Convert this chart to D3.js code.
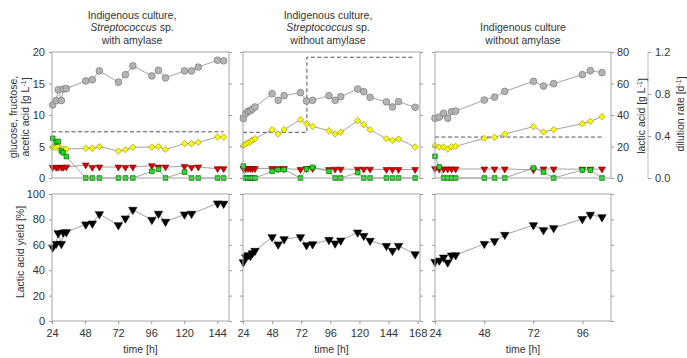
<!DOCTYPE html>
<html>
<head>
<meta charset="utf-8">
<script src="https://cdn.jsdelivr.net/npm/d3@7"></script>
<style>
  html, body { margin: 0; padding: 0; background: #fff; }
  svg { display: block; }
</style>
</head>
<body>
<script>
// ---- data ----
// panel 1: indigenous culture + Streptococcus sp., with amylase
const time1 = [24.5, 27, 28.5, 30.8, 32.2, 34.4, 48.5, 53.3, 58.4, 72.2, 77.3, 82.7, 96.5, 101.3, 106.4, 120.2, 125.3, 130.2, 144.2, 148.6];
const lactic1 = [46.4, 49.2, 56.0, 49.2, 56.4, 56.8, 61.6, 62.4, 68.0, 60.8, 65.6, 71.2, 64.8, 68.4, 63.6, 68.0, 68.0, 70.4, 74.8, 74.4];
const acetic1 = [4.87, 4.87, 5.13, 4.39, 4.6, 4.6, 4.71, 4.71, 4.97, 4.29, 4.5, 4.87, 4.92, 4.97, 4.55, 5.45, 5.45, 5.66, 6.5, 6.5];
const fructose1 = [1.69, 1.69, 1.69, 1.69, 1.69, 1.74, 2.06, 1.69, 1.74, 1.74, 1.69, 1.74, 1.96, 1.74, 1.74, 1.85, 1.69, 1.74, 1.48, 1.48];
const glucose1 = [6.3, 5.7, 5.8, 4.3, 4.0, 3.4, 0, 0, 0, 0, 0, 0, 1.06, 1.38, 0, 0.95, 0, 0, 0, 0];
const yield1 = [57.9, 60.8, 69.2, 60.8, 69.7, 70.0, 76.1, 76.8, 84.2, 75.5, 80.8, 87.6, 79.7, 84.5, 78.2, 83.9, 84.5, null, 92.6, 92.4];
const dilTime1 = [24, 148.6];
const dilution1 = [0.44, 0.44];

// panel 2: indigenous culture + Streptococcus sp., without amylase
const time2 = [24.3, 26.2, 28.1, 30.1, 31.7, 33.9, 48.0, 53.0, 57.9, 71.4, 76.4, 81.4, 94.9, 100.0, 104.6, 118.6, 123.6, 128.8, 142.3, 147.3, 152.3, 166.0];
const lactic2 = [37.7, 40.8, 42.3, 42.8, 43.8, 45.1, 53.5, 49.3, 52.3, 54.2, 48.9, 49.3, 52.3, 49.3, 51.6, 56.5, 54.8, 51.2, 48.3, 45.1, 48.5, 44.9];
const acetic2 = [5.13, 5.4, 5.6, 5.77, 6.03, 6.24, 7.67, 6.98, 7.67, 9.26, 8.62, 8.2, 7.51, 6.98, 7.25, 9.1, 8.47, 7.67, 6.24, 5.98, 6.19, 4.92];
const fructose2 = [1.5, 1.5, 1.5, 1.5, 1.5, 1.5, 1.5, 1.5, 1.5, 1.35, 1.5, 1.5, 1.35, 1.4, 1.4, 1.4, 1.4, 1.4, 1.35, 1.35, 1.35, 1.35];
const glucose2 = [1.9, 0, 0, 0, 0, 0, 1.06, 1.32, 1.32, 0, 1.43, 1.69, 1.06, 0, 0, 0.85, 0, 0, 0, 0, 0, 0];
const yield2 = [46.3, 50.3, 51.8, 51.3, 53.4, 55.3, 66.1, 60.3, 64.5, 66.1, 59.7, 60.5, 63.9, 61.1, 63.4, 69.7, 67.1, 63.2, 59.2, 55.3, 59.2, 52.6];
const dilTime2 = [24, 76.7, 164.7];
const dilution2 = [0.435, 1.15, 1.15];

// panel 3: indigenous culture, without amylase
const time3 = [24, 26.1, 28.2, 30.2, 32.1, 34.1, 48.1, 53.1, 58.1, 72.1, 77.0, 82.0, 96.0, 99.9, 105.6];
const lactic3 = [37.9, 38.7, 41.1, 37.9, 42.1, 42.5, 49.5, 51.4, 55.0, 61.4, 58.4, 59.9, 65.6, 68.1, 66.9];
const acetic3 = [5.13, 4.92, 4.92, 4.6, 4.97, 5.03, 6.3, 6.46, 6.98, 8.15, 7.3, 7.67, 8.62, 9.0, 9.74];
const fructose3 = [1.48, 1.43, 1.43, 1.43, 1.43, 1.43, 1.43, 1.43, 1.43, 1.3, 1.43, 1.43, 1.4, 1.4, 1.43];
const glucose3 = [3.44, 1.75, 0, 0, 0, 0, 0, 0, 0, 1.59, 0.95, 0, 1.27, 1.27, 0];
const yield3 = [46.6, 47.6, 50.0, 46.1, 51.6, 51.8, 60.8, 62.9, 67.9, 75.5, 71.6, 73.2, 80.3, 83.7, 81.8];
const dilTime3 = [24, 105.6];
const dilution3 = [0.39, 0.39];

const timeTicks1 = [24, 48, 72, 96, 120, 144];
const timeTicks2 = [24, 48, 72, 96, 120, 144, 168];
const timeTicks3 = [24, 48, 72, 96];
const concTicks = [0, 5, 10, 15, 20];
const lacticTicks = [0, 20, 40, 60, 80];
const dilutionTicks = [0, 0.4, 0.8, 1.2];
const yieldTicks = [0, 20, 40, 60, 80, 100];

// ---- layout ----
const W = 687, H = 358;
const FONT = "Arial, 'Liberation Sans', Helvetica, sans-serif";
const TOP = [178, 52];      // y range of the concentration plots
const BOT = [321, 194];     // y range of the yield plots
const TEXT = "#333";
const FRAME = "#a6a6a6";

const panels = [
	{
		xr: [52, 229], domain: [24, 152.5], ticks: timeTicks1, titleX: 132,
		title: [["Indigenous culture,"], [["Streptococcus", true], [" sp.", false]], ["with amylase"]],
		time: time1, lactic: lactic1, acetic: acetic1, fructose: fructose1, glucose: glucose1,
		yield: yield1, dilTime: dilTime1, dilution: dilution1
	},
	{
		xr: [243, 420], domain: [24, 170], ticks: timeTicks2, titleX: 328,
		title: [["Indigenous culture,"], [["Streptococcus", true], [" sp.", false]], ["without amylase"]],
		time: time2, lactic: lactic2, acetic: acetic2, fructose: fructose2, glucose: glucose2,
		yield: yield2, dilTime: dilTime2, dilution: dilution2
	},
	{
		xr: [435, 611], domain: [24, 110], ticks: timeTicks3, titleX: 523,
		title: [null, ["Indigenous culture"], ["without amylase"]],
		time: time3, lactic: lactic3, acetic: acetic3, fructose: fructose3, glucose: glucose3,
		yield: yield3, dilTime: dilTime3, dilution: dilution3
	}
];

const svg = d3.select("body").append("svg")
	.attr("width", W)
	.attr("height", H)
	.attr("font-family", FONT);

const yConc = d3.scaleLinear().domain([0, 20]).range(TOP);
const yLactic = d3.scaleLinear().domain([0, 80]).range(TOP);
const yDil = d3.scaleLinear().domain([0, 1.2]).range(TOP);
const yYield = d3.scaleLinear().domain([0, 100]).range(BOT);

function styleAxis(g) {
	g.attr("font-family", FONT).attr("font-size", 11);
	g.select(".domain").remove();
	g.selectAll(".tick line").attr("stroke", "#999");
	g.selectAll(".tick text").attr("fill", TEXT);
}

function drawSeries(g, x, y, times, values, shape, size, fill, stroke, rotate) {
	const pts = times.map((t, i) => ({t, v: values[i]})).filter(d => d.v != null);
	g.append("path")
		.datum(pts)
		.attr("d", d3.line().x(d => x(d.t)).y(d => y(d.v)))
		.attr("fill", "none")
		.attr("stroke", "#8c8c8c")
		.attr("stroke-width", 0.8);
	g.selectAll(null)
		.data(pts)
		.join("path")
		.attr("transform", d => `translate(${x(d.t)},${y(d.v)}) rotate(${rotate})`)
		.attr("d", d3.symbol(shape, size)())
		.attr("fill", fill)
		.attr("stroke", stroke)
		.attr("stroke-width", 0.6);
}

function frame(x0, x1, yr) {
	svg.append("rect")
		.attr("x", x0).attr("y", yr[1])
		.attr("width", x1 - x0).attr("height", yr[0] - yr[1])
		.attr("fill", "none")
		.attr("stroke", FRAME)
		.attr("stroke-width", 1);
}

function rotatedLabel(x, y, parts) {
	const t = svg.append("text")
		.attr("transform", `translate(${x},${y}) rotate(-90)`)
		.attr("text-anchor", "middle")
		.attr("dy", "0.35em")
		.attr("font-size", 10.5)
		.attr("fill", TEXT);
	addUnit(t, parts);
}

// text with a "-1" superscript inside the unit bracket
function addUnit(t, parts) {
	t.append("tspan").text(parts[0]);
	if (parts.length > 1) {
		t.append("tspan").attr("dy", "-0.45em").attr("font-size", 7).text(parts[1]);
		t.append("tspan").attr("dy", "0.45em").text(parts[2]);
	}
}

panels.forEach((p, i) => {
	const x = d3.scaleLinear().domain(p.domain).range(p.xr);
	const [x0, x1] = p.xr;

	// title
	p.title.forEach((line, k) => {
		if (!line) return;
		const t = svg.append("text")
			.attr("x", p.titleX)
			.attr("y", 19 + k * 12.3)
			.attr("text-anchor", "middle")
			.attr("font-size", 10.5)
			.attr("fill", TEXT);
		if (typeof line[0] === "string") t.text(line[0]);
		else line.forEach(([s, it]) => t.append("tspan").attr("font-style", it ? "italic" : "normal").text(s));
	});

	// ---- top: concentrations ----
	const top = svg.append("g");
	top.append("path")
		.datum(p.dilTime.map((t, k) => ({t, v: p.dilution[k]})))
		.attr("d", d3.line().curve(d3.curveStepAfter).x(d => x(d.t)).y(d => yDil(d.v)))
		.attr("fill", "none")
		.attr("stroke", "#555")
		.attr("stroke-width", 1)
		.attr("stroke-dasharray", "4,2.5");

	drawSeries(top, x, yLactic, p.time, p.lactic, d3.symbolCircle, 36, "#b3b3b3", "#6e6e6e", 0);
	drawSeries(top, x, yConc, p.time, p.acetic, d3.symbolSquare, 20, "#ffff00", "#8a8a00", 45);
	drawSeries(top, x, yConc, p.time, p.fructose, d3.symbolTriangle, 20, "#dd0000", "#700000", 180);
	drawSeries(top, x, yConc, p.time, p.glucose, d3.symbolSquare, 22, "#22dd22", "#005500", 0);

	frame(x0, x1, TOP);

	const leftTop = svg.append("g").attr("transform", `translate(${x0},0)`)
		.call(d3.axisLeft(yConc).tickValues(concTicks).tickSize(3).tickPadding(4)
			.tickFormat(i === 0 ? d3.format("d") : ""));
	styleAxis(leftTop);

	const rightTop = svg.append("g").attr("transform", `translate(${x1},0)`)
		.call(d3.axisRight(yLactic).tickValues(lacticTicks).tickSize(3).tickPadding(3)
			.tickFormat(i === 2 ? d3.format("d") : ""));
	styleAxis(rightTop);

	// ---- bottom: lactic acid yield ----
	const bot = svg.append("g");
	drawSeries(bot, x, yYield, p.time, p.yield, d3.symbolTriangle, 30, "#000", "#000", 180);

	frame(x0, x1, BOT);

	const leftBot = svg.append("g").attr("transform", `translate(${x0},0)`)
		.call(d3.axisLeft(yYield).tickValues(yieldTicks).tickSize(3).tickPadding(4)
			.tickFormat(i === 0 ? d3.format("d") : ""));
	styleAxis(leftBot);

	const rightBot = svg.append("g").attr("transform", `translate(${x1},0)`)
		.call(d3.axisRight(yYield).tickValues(yieldTicks).tickSize(3).tickFormat(""));
	styleAxis(rightBot);

	const xAxis = svg.append("g").attr("transform", `translate(0,${BOT[0]})`)
		.call(d3.axisBottom(x).tickValues(p.ticks).tickSize(3).tickPadding(5).tickFormat(d3.format("d")));
	styleAxis(xAxis);

	svg.append("text")
		.attr("x", (x0 + x1) / 2)
		.attr("y", 353)
		.attr("text-anchor", "middle")
		.attr("font-size", 10.5)
		.attr("fill", TEXT)
		.text("time [h]");
});

// dilution rate axis, right of the last panel
const dilAxis = svg.append("g").attr("transform", "translate(648,0)")
	.call(d3.axisRight(yDil).tickValues(dilutionTicks).tickSize(3).tickSizeOuter(0).tickPadding(4)
		.tickFormat(d3.format(".1f")));
styleAxis(dilAxis);
dilAxis.append("line")
	.attr("y1", TOP[0]).attr("y2", TOP[1])
	.attr("stroke", "#bbb");

// axis titles
rotatedLabel(13, 117, ["glucose, fructose,"]);
rotatedLabel(25, 117, ["acetic acid [g L", "-1", "]"]);
rotatedLabel(20, 252, ["Lactic acid yield [%]"]);
rotatedLabel(641, 116, ["lactic acid [g L", "-1", "]"]);
rotatedLabel(680, 114, ["dilution rate [d", "-1", "]"]);
</script>
</body>
</html>
